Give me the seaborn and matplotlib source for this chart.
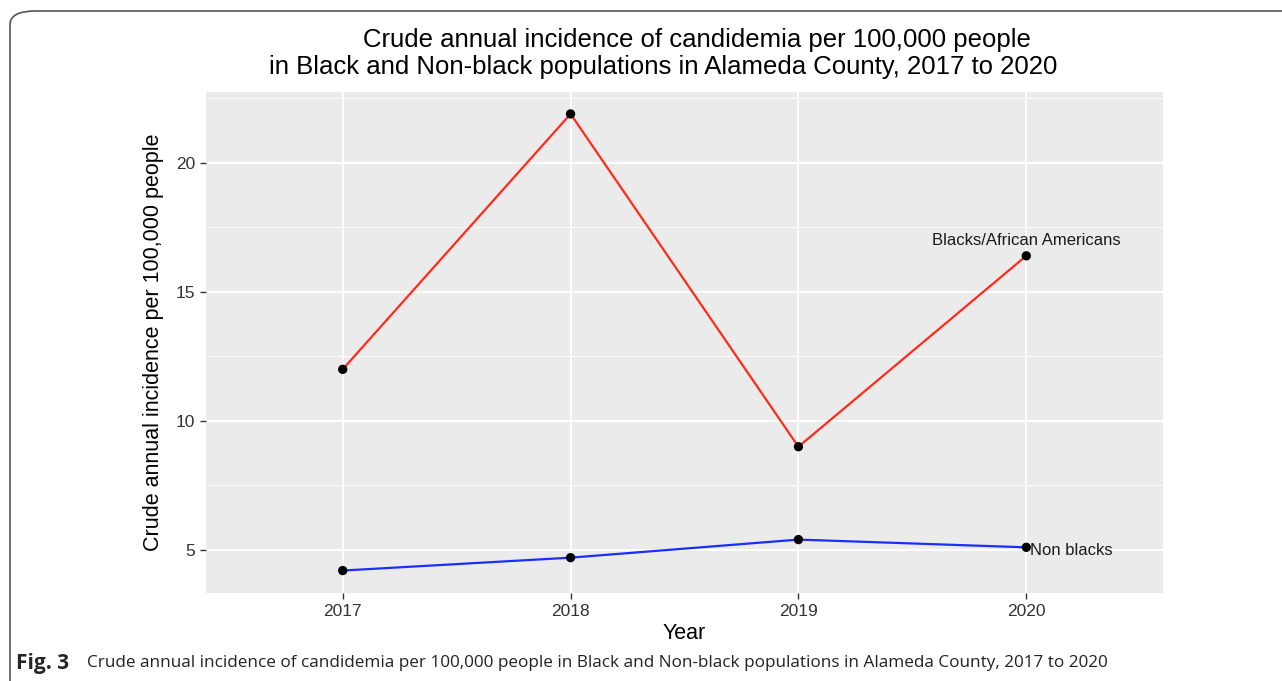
import matplotlib
matplotlib.use("Agg")
import matplotlib.pyplot as plt
from matplotlib.patches import FancyBboxPatch
from matplotlib.ticker import MultipleLocator
import seaborn as sns
import pandas as pd

years = [2017, 2018, 2019, 2020]
black_incidence = [12.0, 21.9, 9.0, 16.4]
nonblack_incidence = [4.2, 4.7, 5.4, 5.1]
group_names = ["Blacks/African Americans", "Non blacks"]

df = pd.DataFrame({
    "Year": years * 2,
    "Incidence": black_incidence + nonblack_incidence,
    "Group": [group_names[0]] * 4 + [group_names[1]] * 4,
})

sns.set_theme(style="darkgrid")
plt.rcParams["font.family"] = ["Liberation Sans", "DejaVu Sans"]

W, H = 1282, 681
fig = plt.figure(figsize=(W / 100, H / 100), dpi=100)
ax = fig.add_axes([206 / W, 1 - 593 / H, (1163 - 206) / W, (593 - 92) / H])
ax.set_facecolor("#EBEBEB")

sns.lineplot(data=df, x="Year", y="Incidence", hue="Group",
             palette={group_names[0]: "#FF2A1A", group_names[1]: "#1A2EFF"},
             linewidth=1.6, legend=False, ax=ax)
sns.scatterplot(data=df, x="Year", y="Incidence", color="black",
                s=45, edgecolor="none", zorder=5, legend=False, ax=ax)

ax.annotate(group_names[0], (years[-1], black_incidence[-1]),
            xytext=(0, 11), textcoords="offset points",
            ha="center", va="center", fontsize=12, color="#1a1a1a")
ax.annotate(group_names[1], (years[-1], nonblack_incidence[-1]),
            xytext=(3, -2), textcoords="offset points",
            ha="left", va="center", fontsize=12, color="#1a1a1a")

ax.set_xlim(2016.4, 2020.6)
ax.set_ylim(3.33, 22.75)
ax.set_xticks(years)
ax.set_xticklabels([str(y) for y in years])
ax.yaxis.set_major_locator(MultipleLocator(5))
ax.yaxis.set_minor_locator(MultipleLocator(2.5))
ax.grid(which="major", color="white", linewidth=1.3)
ax.grid(which="minor", axis="y", color="white", linewidth=0.6)
ax.tick_params(axis="both", which="major", length=4, width=1, color="#333333",
               labelsize=12.5, labelcolor="#333333", pad=4, bottom=True, left=True)
ax.tick_params(axis="y", which="minor", length=0)
for s in ax.spines.values():
    s.set_visible(False)

ax.set_xlabel("Year", fontsize=15.5, color="black", labelpad=3)
ax.set_ylabel("Crude annual incidence per 100,000 people", fontsize=15.5,
              color="black", labelpad=8)

# two title lines, each centred on its own as in the original
fig.text(697 / W, 1 - 47 / H, "Crude annual incidence of candidemia per 100,000 people",
         fontsize=18.5, ha="center", va="baseline", color="black")
fig.text(663 / W, 1 - 74 / H,
         "in Black and Non-black populations in Alameda County, 2017 to 2020",
         fontsize=18.5, ha="center", va="baseline", color="black")

fig.patches.append(FancyBboxPatch((10 / W, -0.05), 1.2, 1 - 11 / H + 0.05,
                                  boxstyle="round,pad=0,rounding_size=0.02",
                                  transform=fig.transFigure, facecolor="none",
                                  edgecolor="#555555", linewidth=1.2))

fig.text(16 / W, 1 - 663 / H, "Fig. 3", fontsize=15, fontweight="bold",
         family=["Open Sans", "DejaVu Sans"], va="center", ha="left")
fig.text(87 / W, 1 - 663 / H,
         "Crude annual incidence of candidemia per 100,000 people in Black and "
         "Non-black populations in Alameda County, 2017 to 2020",
         fontsize=12.3, family=["Open Sans", "DejaVu Sans"], va="center", ha="left",
         color="#222222")

fig.savefig("out.png", dpi=100)
